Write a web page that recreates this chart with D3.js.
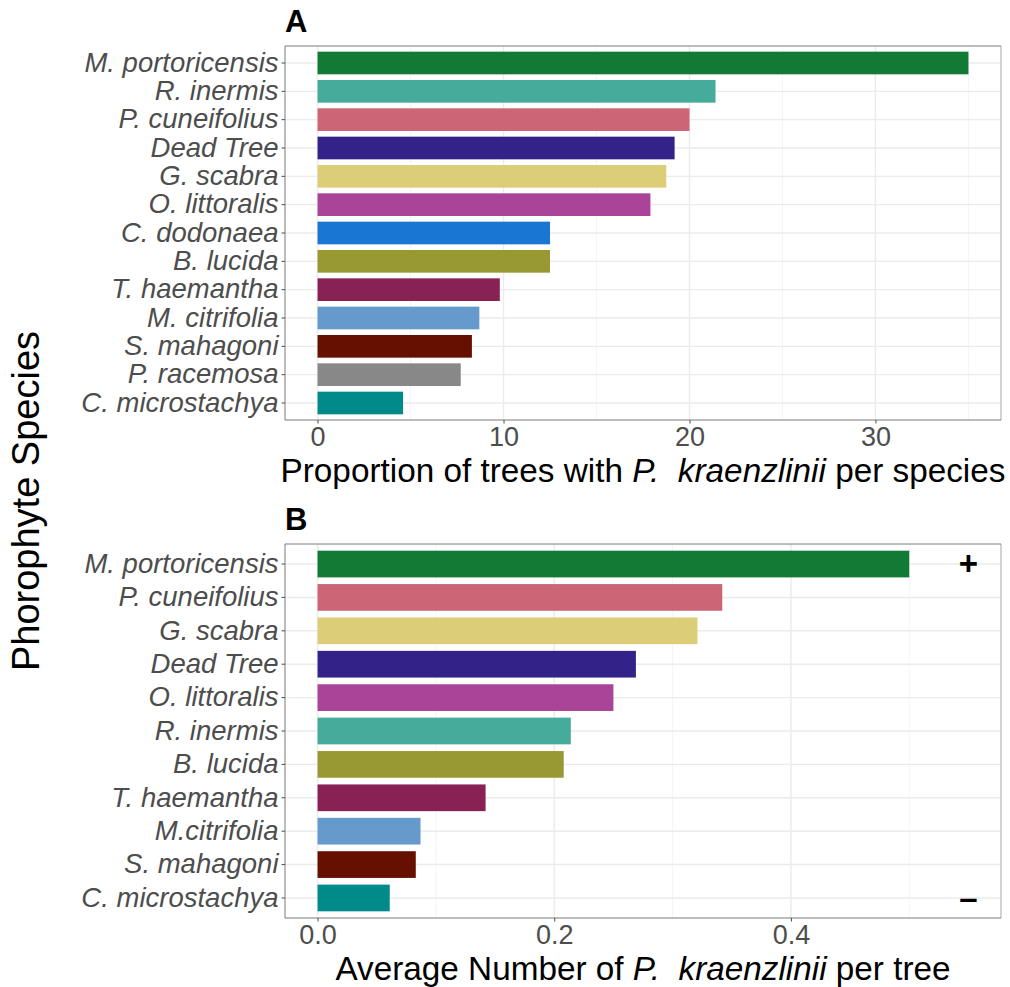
<!DOCTYPE html>
<html>
<head>
<meta charset="utf-8">
<script src="https://cdn.jsdelivr.net/npm/d3@7"></script>
<style>
  body { margin: 0; background: #fff; }
  svg { font-family: "Liberation Sans", Arial, sans-serif; }
  .grid-major { stroke: #ebebeb; stroke-width: 1.4; }
  .grid-minor { stroke: #f2f2f2; stroke-width: 0.8; }
  .axis text { fill: #4d4d4d; }
  .axis line { stroke: #4d4d4d; }
  .axis path { display: none; }
  .title { white-space: pre; }
</style>
</head>
<body>
<svg width="1010" height="987"></svg>
<script>
// panel A: proportion of trees with P. kraenzlinii per species
const speciesA = ['M. portoricensis', 'R. inermis', 'P. cuneifolius', 'Dead Tree', 'G. scabra',
    'O. littoralis', 'C. dodonaea', 'B. lucida', 'T. haemantha', 'M. citrifolia',
    'S. mahagoni', 'P. racemosa', 'C. microstachya'];
const valuesA = [35.0, 21.4, 20.0, 19.2, 18.75, 17.9, 12.5, 12.5, 9.8, 8.7, 8.3, 7.7, 4.6];
const ticksA = [0, 10, 20, 30];
const minorA = [5, 15, 25, 35];

// panel B: average number of P. kraenzlinii per tree
const speciesB = ['M. portoricensis', 'P. cuneifolius', 'G. scabra', 'Dead Tree', 'O. littoralis',
    'R. inermis', 'B. lucida', 'T. haemantha', 'M.citrifolia', 'S. mahagoni', 'C. microstachya'];
const valuesB = [0.5, 0.342, 0.321, 0.269, 0.250, 0.214, 0.208, 0.142, 0.087, 0.083, 0.061];
const ticksB = [0.0, 0.2, 0.4];
const minorB = [0.1, 0.3, 0.5];
const signsB = [{label: '+', species: 'M. portoricensis', x: 0.55},
                {label: '\u2013', species: 'C. microstachya', x: 0.55}];

const colorMap = {
    'M. portoricensis': '#137a35',
    'R. inermis': '#45ac9b',
    'P. cuneifolius': '#cc6677',
    'Dead Tree': '#332288',
    'G. scabra': '#dccd79',
    'O. littoralis': '#aa4499',
    'C. dodonaea': '#1976d2',
    'B. lucida': '#999933',
    'T. haemantha': '#882255',
    'M. citrifolia': '#6699cc',
    'M.citrifolia': '#6699cc',
    'S. mahagoni': '#661100',
    'P. racemosa': '#888888',
    'C. microstachya': '#008a8a'
};

const svg = d3.select('svg');
const left = 285, right = 1001;

function panel(opts) {
    let g = svg.append('g');
    let top = opts.top, bottom = opts.bottom;
    let x = d3.scaleLinear().domain(opts.domain).range([left, right]);
    let y = d3.scaleBand().domain(opts.species).range([top, bottom])
        .paddingInner(0.2).paddingOuter(0.2);

    // grid
    g.selectAll('.vminor').data(opts.minor).enter().append('line')
        .attr('class', 'grid-minor')
        .attr('x1', d => x(d)).attr('x2', d => x(d))
        .attr('y1', top).attr('y2', bottom);
    g.selectAll('.vmajor').data(opts.ticks).enter().append('line')
        .attr('class', 'grid-major')
        .attr('x1', d => x(d)).attr('x2', d => x(d))
        .attr('y1', top).attr('y2', bottom);
    g.selectAll('.hmajor').data(opts.species).enter().append('line')
        .attr('class', 'grid-major')
        .attr('x1', left).attr('x2', right)
        .attr('y1', d => y(d) + y.bandwidth()/2)
        .attr('y2', d => y(d) + y.bandwidth()/2);

    // bars
    g.selectAll('rect.bar').data(opts.species).enter().append('rect')
        .attr('class', 'bar')
        .attr('x', x(0))
        .attr('y', d => y(d))
        .attr('height', y.bandwidth())
        .attr('width', (d, i) => x(opts.values[i]) - x(0))
        .attr('fill', d => colorMap[d]);

    // border: light right edge, darker left/top/bottom
    g.append('line').attr('x1', right).attr('x2', right).attr('y1', top).attr('y2', bottom)
        .attr('stroke', '#c8c8c8').attr('stroke-width', 1.6);
    g.append('path')
        .attr('d', `M${right},${top}H${left}V${bottom}H${right}`)
        .attr('fill', 'none').attr('stroke', '#7a7a7a').attr('stroke-width', 1);

    // axes
    g.append('g').attr('class', 'axis')
        .attr('transform', `translate(${left},0)`)
        .call(d3.axisLeft(y).tickSize(3.5).tickPadding(3))
        .selectAll('text')
        .attr('font-size', 27.5).attr('font-style', 'italic');
    g.append('g').attr('class', 'axis')
        .attr('transform', `translate(0,${bottom})`)
        .call(d3.axisBottom(x).tickValues(opts.ticks).tickFormat(opts.fmt).tickSize(3.5).tickPadding(3))
        .selectAll('text')
        .attr('font-size', 27);

    // x title
    let t = g.append('text').attr('class', 'title')
        .attr('x', (left + right) / 2).attr('y', bottom + 62)
        .attr('text-anchor', 'middle').attr('font-size', 33.3).attr('fill', '#000');
    opts.title.forEach(p => t.append('tspan').attr('font-style', p[1] ? 'italic' : 'normal').text(p[0]));

    // panel tag
    g.append('text').attr('x', 285).attr('y', top - 14)
        .attr('font-size', 31).attr('font-weight', 'bold').text(opts.tag);

    return {g, x, y};
}

panel({
    tag: 'A', top: 46, bottom: 420, domain: [-1.75, 36.75],
    species: speciesA, values: valuesA, ticks: ticksA, minor: minorA,
    fmt: d3.format('d'),
    title: [['Proportion of trees with ', false], ['P.  kraenzlinii', true], [' per species', false]]
});

let pb = panel({
    tag: 'B', top: 544, bottom: 918, domain: [-0.0275, 0.5775],
    species: speciesB, values: valuesB, ticks: ticksB, minor: minorB,
    fmt: d3.format('.1f'),
    title: [['Average Number of ', false], ['P.  kraenzlinii', true], [' per tree', false]]
});

pb.g.selectAll('text.sign').data(signsB).enter().append('text')
    .attr('class', 'sign')
    .attr('x', d => pb.x(d.x))
    .attr('y', d => pb.y(d.species) + pb.y.bandwidth()/2 + 11)
    .attr('text-anchor', 'middle')
    .attr('font-size', 33).attr('font-weight', 'bold')
    .text(d => d.label);

// shared y title
svg.append('text')
    .attr('transform', 'translate(39,501) rotate(-90)')
    .attr('text-anchor', 'middle')
    .attr('font-size', 38)
    .text('Phorophyte Species');
</script>
</body>
</html>
